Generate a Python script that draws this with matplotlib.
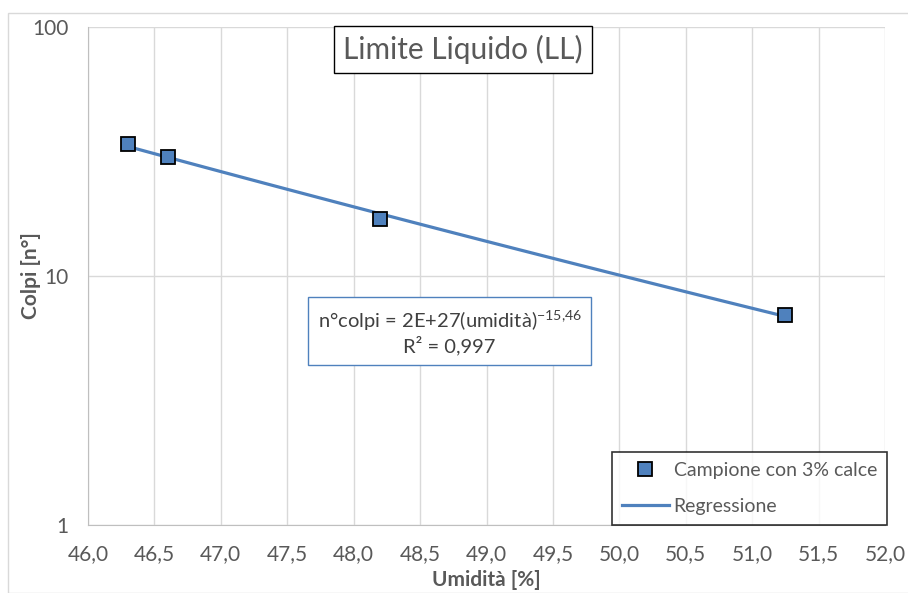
import numpy as np
import matplotlib.pyplot as plt
from matplotlib.patches import Rectangle

# dati prova limite liquido
umidita = [46.3, 46.6, 48.2, 51.25]
colpi = [34, 30, 17, 7]
xticks = np.arange(46.0, 52.01, 0.5)
xticklabels = ["{:.1f}".format(v).replace('.', ',') for v in xticks]

plt.rcParams['font.family'] = ['Lato', 'DejaVu Sans']
plt.rcParams['mathtext.fontset'] = 'custom'
plt.rcParams['mathtext.rm'] = 'Lato'
grey = '#595959'
blue = '#4F81BD'

fig = plt.figure(figsize=(9.08, 5.93), dpi=100)
ax = fig.add_axes([0.0969, 0.1147, 0.8778, 0.8398])

# regressione potenza in scala log-log
b, a = np.polyfit(np.log10(umidita), np.log10(colpi), 1)
xr = np.linspace(min(umidita), max(umidita), 100)
yr = 10**a * xr**b

ax.plot(xr, yr, color=blue, lw=2.3, label='Regressione', zorder=3)
ax.plot(umidita, colpi, 's', ms=10, mfc=blue, mec='black', mew=1.3,
        label='Campione con 3% calce', zorder=4)

ax.set_yscale('log')
ax.set_ylim(1, 100)
ax.set_xlim(46.0, 52.0)
ax.set_xticks(xticks)
ax.set_xticklabels(xticklabels)
ax.set_yticks([1, 10, 100])
ax.set_yticklabels(['1', '10', '100'])
ax.minorticks_off()
ax.grid(True, color='#D9D9D9', lw=1)
ax.set_axisbelow(True)
ax.tick_params(length=0, labelsize=15, colors=grey)
ax.tick_params(axis='x', pad=14)
ax.tick_params(axis='y', pad=14)
for s in ['top', 'right']:
    ax.spines[s].set_visible(False)
for s in ['left', 'bottom']:
    ax.spines[s].set_color('#BFBFBF')

ax.set_xlabel('Umidità [%]', fontsize=15, fontweight='bold', color=grey, labelpad=4)
ax.set_ylabel('Colpi [n°]', fontsize=15, fontweight='bold', color=grey)
ax.yaxis.set_label_coords(-0.059, 0.5)

ax.text(0.4705, 0.955, 'Limite Liquido (LL)', transform=ax.transAxes, ha='center', va='center',
        fontsize=21.5, color=grey,
        bbox=dict(boxstyle='square,pad=0.3', fc='white', ec='black', lw=1))

ax.text(0.4536, 0.388, 'n°colpi = 2E+27(umidità)$^{\\mathrm{-15{,}46}}$\nR² = 0,997',
        transform=ax.transAxes, ha='center', va='center', fontsize=14.5, color='#404040',
        linespacing=1.2,
        bbox=dict(boxstyle='square,pad=0.45', fc='white', ec=blue, lw=1))

leg = ax.legend(handles=ax.get_lines()[::-1], loc='lower right', bbox_to_anchor=(1.002, 0.0),
                fontsize=14, frameon=True, fancybox=False, edgecolor='black',
                handlelength=2.4, labelspacing=1.0, borderpad=0.5, handletextpad=0.25,
                borderaxespad=0)
leg.get_frame().set_linewidth(1.2)
for t in leg.get_texts():
    t.set_color(grey)

# cornice area grafico
fig.patches.append(Rectangle((8 / 908, 0), 1.0, 1 - 13 / 593, transform=fig.transFigure,
                             fill=False, ec='#D9D9D9', lw=1))

fig.savefig('out.png', dpi=100)
